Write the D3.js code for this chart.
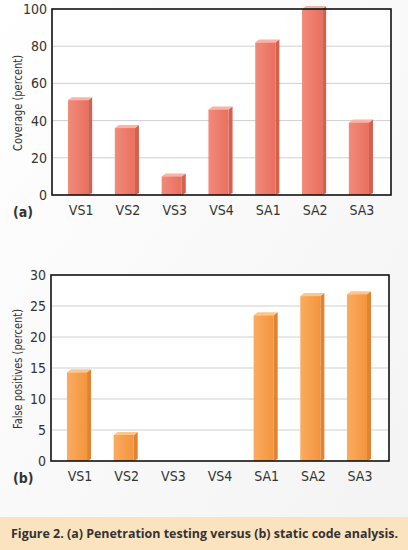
<!DOCTYPE html>
<html>
<head>
<meta charset="utf-8">
<script src="https://cdn.jsdelivr.net/npm/d3@7"></script>
<style>
  body { margin: 0; background: #fff; }
  svg { display: block; }
</style>
</head>
<body>
<svg id="chart"></svg>
<script>
// data
var categories = ["VS1", "VS2", "VS3", "VS4", "SA1", "SA2", "SA3"];
var coverage = [51, 36, 10, 46, 82, 100, 39];
var falsePositives = [14.3, 4.2, 0, 0, 23.5, 26.6, 26.9];
var coverageTicks = [0, 20, 40, 60, 80, 100];
var fpTicks = [0, 5, 10, 15, 20, 25, 30];

var W = 408, H = 550;
var narrow = "'Liberation Sans Narrow', 'DejaVu Sans Condensed', 'Roboto Condensed', sans-serif";

var svg = d3.select("#chart").attr("width", W).attr("height", H);
var defs = svg.append("defs");

// soft page background
var bg = defs.append("linearGradient").attr("id", "bg").attr("x1", 0).attr("y1", 0).attr("x2", 1).attr("y2", 1);
bg.append("stop").attr("offset", "0%").attr("stop-color", "#ffffff");
bg.append("stop").attr("offset", "100%").attr("stop-color", "#f3f3f3");
svg.append("rect").attr("width", W).attr("height", H).attr("fill", "url(#bg)");

function barGradient(id, light, dark) {
  var g = defs.append("linearGradient").attr("id", id).attr("x1", 0).attr("x2", 1).attr("y1", 0).attr("y2", 0);
  g.append("stop").attr("offset", "0%").attr("stop-color", light);
  g.append("stop").attr("offset", "100%").attr("stop-color", dark);
}
barGradient("gA", "#f28a7a", "#e9705f");
barGradient("gB", "#fbab5f", "#f3953f");

function drawPanel(opt) {
  var margin = opt.margin,
      width = opt.width,
      height = opt.height;

  var g = svg.append("g").attr("transform", "translate(" + margin.left + "," + margin.top + ")");

  var x = d3.scaleBand().domain(categories).range([0, width - 6]).paddingInner(0.57).paddingOuter(0.3425);
  var y = d3.scaleLinear().domain([0, opt.max]).range([height, 0]);

  g.append("rect").attr("width", width).attr("height", height).attr("fill", "#fff");

  // gridlines
  g.selectAll(".grid").data(opt.ticks.slice(1, -1)).enter().append("line")
    .attr("x1", 0).attr("x2", width)
    .attr("y1", function(d) { return y(d); }).attr("y2", function(d) { return y(d); })
    .attr("stroke", "#cfcfcf").attr("stroke-width", 1);

  var dx = 4, dy = -3;
  var rows = categories.map(function(c, i) { return {cat: c, v: opt.values[i]}; })
    .filter(function(d) { return d.v > 0; });
  var bars = g.selectAll(".bar").data(rows).enter().append("g");

  // side face
  bars.append("path")
    .attr("d", function(d) {
      var x0 = x(d.cat) + x.bandwidth();
      var yt = y(d.v);
      return "M" + x0 + "," + yt + "L" + (x0 + dx) + "," + (yt + dy) + "L" + (x0 + dx) + "," + (height - 2) + "L" + x0 + "," + height + "Z";
    })
    .attr("fill", opt.side);

  // top face
  bars.append("path")
    .attr("d", function(d) {
      var x0 = x(d.cat);
      var yt = y(d.v);
      return "M" + x0 + "," + yt + "L" + (x0 + x.bandwidth()) + "," + yt + "L" + (x0 + x.bandwidth() + dx) + "," + (yt + dy) + "L" + (x0 + dx) + "," + (yt + dy) + "Z";
    })
    .attr("fill", opt.top);

  // front face
  bars.append("rect")
    .attr("x", function(d) { return x(d.cat); })
    .attr("y", function(d) { return y(d.v); })
    .attr("width", x.bandwidth())
    .attr("height", function(d) { return height - y(d.v); })
    .attr("fill", opt.front);

  // frame
  g.append("rect").attr("width", width).attr("height", height)
    .attr("fill", "none").attr("stroke", "#111").attr("stroke-width", 1.6);

  // y axis labels
  var yAxis = d3.axisLeft(y).tickValues(opt.ticks).tickSize(0).tickPadding(5);
  var ya = g.append("g").call(yAxis);
  ya.select(".domain").remove();
  ya.selectAll("text").attr("font-family", narrow).attr("font-size", 14).attr("fill", "#333");

  // x axis labels
  var xAxis = d3.axisBottom(x).tickSize(0).tickPadding(10);
  var xa = g.append("g").attr("transform", "translate(3," + height + ")").call(xAxis);
  xa.select(".domain").remove();
  xa.selectAll("text").attr("font-family", narrow).attr("font-size", 14).attr("fill", "#333");

  // y title
  g.append("text")
    .attr("transform", "translate(" + (opt.titleX - margin.left) + "," + opt.titleY + ") rotate(-90)")
    .attr("text-anchor", "middle")
    .attr("font-family", narrow).attr("font-size", 13).attr("fill", "#333")
    .attr("textLength", opt.titleLen).attr("lengthAdjust", "spacingAndGlyphs")
    .text(opt.title);

  // panel letter
  g.append("text")
    .attr("x", 13 - margin.left).attr("y", height + 22)
    .attr("font-family", narrow).attr("font-size", 14).attr("font-weight", "bold").attr("fill", "#333")
    .text(opt.letter);
}

drawPanel({
  margin: {top: 9, left: 52},
  width: 339, height: 186,
  values: coverage, max: 100, ticks: coverageTicks,
  front: "url(#gA)", side: "#d4604f", top: "#f8b4a6",
  title: "Coverage (percent)", titleX: 22, titleY: 94, titleLen: 96, letter: "(a)"
});

drawPanel({
  margin: {top: 275, left: 51},
  width: 338, height: 186,
  values: falsePositives, max: 30, ticks: fpTicks,
  front: "url(#gB)", side: "#df8433", top: "#fcc68e",
  title: "False positives (percent)", titleX: 22, titleY: 94, titleLen: 120, letter: "(b)"
});

// caption band
svg.append("rect").attr("x", 0).attr("y", 517).attr("width", W).attr("height", H - 517).attr("fill", "#fce3c0");
svg.append("text")
  .attr("x", 11).attr("y", 538)
  .attr("font-family", "'Open Sans', 'Noto Sans', sans-serif").attr("font-weight", "bold").attr("font-size", 12.5)
  .attr("fill", "#333")
  .attr("textLength", 387).attr("lengthAdjust", "spacingAndGlyphs")
  .text("Figure 2. (a) Penetration testing versus (b) static code analysis.");
</script>
</body>
</html>
